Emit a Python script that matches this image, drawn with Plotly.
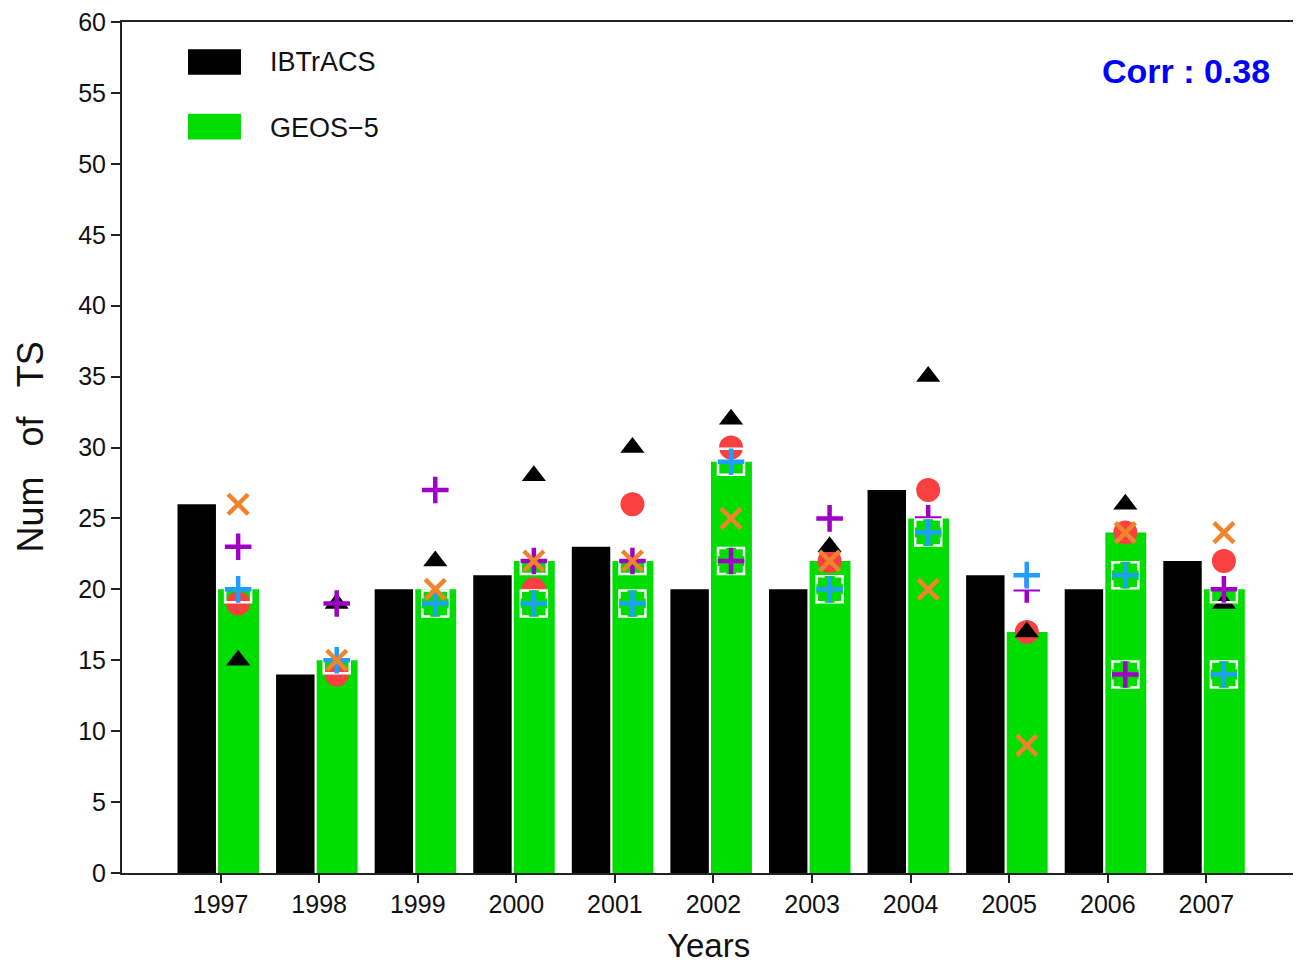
import plotly.graph_objects as go

years = [1997, 1998, 1999, 2000, 2001, 2002, 2003, 2004, 2005, 2006, 2007]
ibtracs = [26, 14, 20, 21, 23, 20, 20, 27, 21, 20, 22]
geos5 = [20, 15, 20, 22, 22, 29, 22, 25, 17, 24, 20]

# individual model/ensemble markers
tri_black = [15, 19, 22, 28, 30, 32, 23, 35, 17, 26, 19]
circ_red = [19, 14, 19, 20, 26, 30, 22, 27, 17, 24, 22]
x_orange = [26, 15, 20, 22, 22, 25, 22, 20, 9, 24, 24]
plus_purple = [23, 19, 27, 22, 22, 22, 25, 25, 20, 14, 20]
plus_blue = [20, 15, 19, 19, 19, 29, 20, 24, 21, 21, 14]

corr_text = "Corr : 0.38"

GREEN = "#00DD00"
RED = "#FA4040"
ORANGE = "#F0842C"
PURPLE = "#A000C6"
BLUE = "#1E9EFF"
FONT = "Liberation Sans"

mx = [y + 0.178 for y in years]

fig = go.Figure()
fig.add_trace(go.Bar(x=years, y=ibtracs, offset=-0.437, width=0.39,
                     marker=dict(color="black", line=dict(width=0)), name="IBTrACS"))
fig.add_trace(go.Bar(x=years, y=geos5, offset=-0.025, width=0.415,
                     marker=dict(color=GREEN, line=dict(width=0)), name="GEOS-5"))

fig.add_trace(go.Scatter(x=mx, y=circ_red, mode="markers",
                         marker=dict(symbol="circle", size=24, color=RED, line=dict(width=0))))
fig.add_trace(go.Scatter(x=mx, y=tri_black, mode="markers",
                         marker=dict(symbol="triangle-up", size=21, color="black", line=dict(width=0))))


def plus_with_box(vals, color):
    inside = [v < g for v, g in zip(vals, geos5)]
    fill = [GREEN if i else "rgba(0,0,0,0)" for i in inside]
    fig.add_trace(go.Scatter(x=mx, y=vals, mode="markers",
                             marker=dict(symbol="square", size=26, color=fill,
                                         line=dict(color="white", width=2.5))))
    fig.add_trace(go.Scatter(x=mx, y=vals, mode="markers",
                             marker=dict(symbol="cross-thin", size=19, color=fill,
                                         line=dict(color=fill, width=10))))
    fig.add_trace(go.Scatter(x=mx, y=vals, mode="markers",
                             marker=dict(symbol="cross-thin", size=19, color=color,
                                         line=dict(color=color, width=4.5))))


plus_with_box(plus_purple, PURPLE)
plus_with_box(plus_blue, BLUE)

fig.add_trace(go.Scatter(x=mx, y=x_orange, mode="markers",
                         marker=dict(symbol="x-thin", size=20, color=ORANGE,
                                     line=dict(color=ORANGE, width=4.5))))

# legend drawn as boxes + text
fig.add_shape(type="rect", xref="paper", yref="paper", x0=0.056, x1=0.1009, y0=0.938, y1=0.968,
              fillcolor="black", line=dict(width=0))
fig.add_shape(type="rect", xref="paper", yref="paper", x0=0.056, x1=0.1009, y0=0.8618, y1=0.8923,
              fillcolor=GREEN, line=dict(width=0))
fig.add_annotation(xref="paper", yref="paper", x=0.1238, y=0.953, text="IBTrACS", showarrow=False,
                   xanchor="left", yanchor="middle", font=dict(family=FONT, size=27, color="#111"))
fig.add_annotation(xref="paper", yref="paper", x=0.1238, y=0.8759, text="GEOS\u22125", showarrow=False,
                   xanchor="left", yanchor="middle", font=dict(family=FONT, size=27, color="#111"))
fig.add_annotation(xref="paper", yref="paper", x=0.9754, y=0.9426, text="<b>" + corr_text + "</b>",
                   showarrow=False, xanchor="right", yanchor="middle",
                   font=dict(family=FONT, size=34, color="#0000FF"))

# axis titles
fig.add_annotation(xref="paper", yref="paper", x=0.4975, y=-0.0855, text="Years", showarrow=False,
                   xanchor="center", yanchor="middle", font=dict(family=FONT, size=33, color="#111"))
fig.add_annotation(xref="paper", yref="paper", x=-0.078, y=0.5, text="Num\u00a0\u00a0 of\u00a0\u00a0 TS",
                   textangle=-90, showarrow=False, xanchor="center", yanchor="middle",
                   font=dict(family=FONT, size=36, color="#111"))

# page body has an 8px margin, so the figure is sized/margined to land the plot area in place
fig.update_layout(
    width=1293, height=956,
    margin=dict(l=114, r=0, t=11, b=91),
    paper_bgcolor="white", plot_bgcolor="white",
    showlegend=False, barmode="overlay",
    font=dict(family=FONT, color="#111"),
)
fig.update_xaxes(range=[1996, 2007.96], tickmode="array", tickvals=years,
                 ticktext=[str(y) for y in years], ticks="outside", ticklen=8, tickwidth=1.5,
                 tickcolor="#222", showline=True, linecolor="#222", linewidth=2, mirror=True,
                 showgrid=False, zeroline=False, tickfont=dict(family=FONT, size=25, color="#111"))
fig.update_yaxes(range=[0, 60], dtick=5, ticks="outside", ticklen=9, tickwidth=1.5, tickcolor="#222",
                 showline=True, linecolor="#222", linewidth=2, showgrid=False, zeroline=False,
                 ticklabeloverflow="allow",
                 tickfont=dict(family=FONT, size=25, color="#111"))

fig.write_html("out.html", config={"displayModeBar": False})
